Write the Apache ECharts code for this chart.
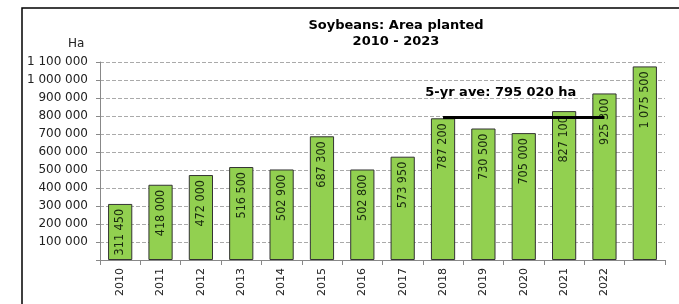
<!DOCTYPE html>
<html>
<head>
<meta charset="utf-8">
<script src="https://cdn.jsdelivr.net/npm/echarts@6/dist/echarts.min.js"></script>
<style>
  html, body { margin: 0; padding: 0; background: #fff; }
  #main { width: 679px; height: 304px; }
</style>
</head>
<body>
<div id="main"></div>
<script>
const years = ['2010', '2011', '2012', '2013', '2014', '2015', '2016', '2017', '2018', '2019', '2020', '2021', '2022', ''];
const areaPlanted = [311450, 418000, 472000, 516500, 502900, 687300, 502800, 573950, 787200, 730500, 705000, 827100, 925300, 1075500];
const avgValue = 795020;
const avgFrom = 8; // 2018
const avgTo = 12;  // 2022

// 1 100 000 style
function fmt(v) {
  return String(v).replace(/\B(?=(\d{3})+(?!\d))/g, ' ');
}

var chart = echarts.init(document.getElementById('main'));
var font = 'Verdana, "DejaVu Sans", sans-serif';
var option = {
  backgroundColor: '#fff',
  animation: false,
  title: {
    text: 'Soybeans: Area planted\n2010 - 2023',
    left: 391,
    top: 13,
    textAlign: 'center',
    textStyle: { fontFamily: font, fontSize: 13, fontWeight: 'bold', color: '#000', lineHeight: 16 }
  },
  graphic: [
    {
      type: 'rect',
      shape: { x: 22, y: 8, width: 700, height: 320 },
      style: { fill: 'none', stroke: '#000', lineWidth: 1.5 },
      silent: true
    },
    {
      type: 'text',
      left: 68,
      top: 38,
      style: { text: 'Ha', font: '12px ' + font, fill: '#222' }
    }
  ],
  grid: { left: 100, right: 14, top: 62, bottom: 44, containLabel: false },
  xAxis: {
    type: 'category',
    data: years,
    axisLine: { lineStyle: { color: '#888' } },
    axisTick: { show: true, length: 5, lineStyle: { color: '#888' } },
    axisLabel: { rotate: 90, fontFamily: font, fontSize: 11, color: '#222', margin: 8, interval: 0 }
  },
  yAxis: {
    type: 'value',
    min: 0,
    max: 1100000,
    interval: 100000,
    axisLine: { show: true, lineStyle: { color: '#888' } },
    axisTick: { show: true, length: 4, lineStyle: { color: '#888' } },
    axisLabel: {
      fontFamily: font, fontSize: 12, color: '#222', margin: 12,
      formatter: function (v) { return v === 0 ? '' : fmt(v); }
    },
    splitLine: { lineStyle: { color: '#aaa', type: [4, 2], width: 1 } }
  },
  series: [
    {
      type: 'bar',
      data: areaPlanted,
      barWidth: '60%',
      itemStyle: { color: '#92D050', borderColor: '#333', borderWidth: 1 },
      label: {
        show: true,
        position: 'insideTop',
        rotate: 90,
        align: 'right',
        verticalAlign: 'middle',
        distance: 5,
        fontFamily: '"DejaVu Sans Condensed", "DejaVu Sans", sans-serif',
        fontSize: 12.5,
        color: '#1a2a10',
        formatter: function (p) { return fmt(p.value); }
      },
      markLine: {
        symbol: 'none',
        silent: true,
        lineStyle: { color: '#000', width: 3, type: 'solid' },
        label: {
          show: true,
          position: 'middle',
          formatter: '5-yr ave: ' + fmt(avgValue) + ' ha',
          fontFamily: font,
          fontSize: 13,
          fontWeight: 'bold',
          color: '#000',
          offset: [-23, -13]
        },
        data: [[
          { coord: [avgFrom, avgValue] },
          { coord: [avgTo, avgValue] }
        ]]
      }
    }
  ]
};
chart.setOption(option);
</script>
</body>
</html>
